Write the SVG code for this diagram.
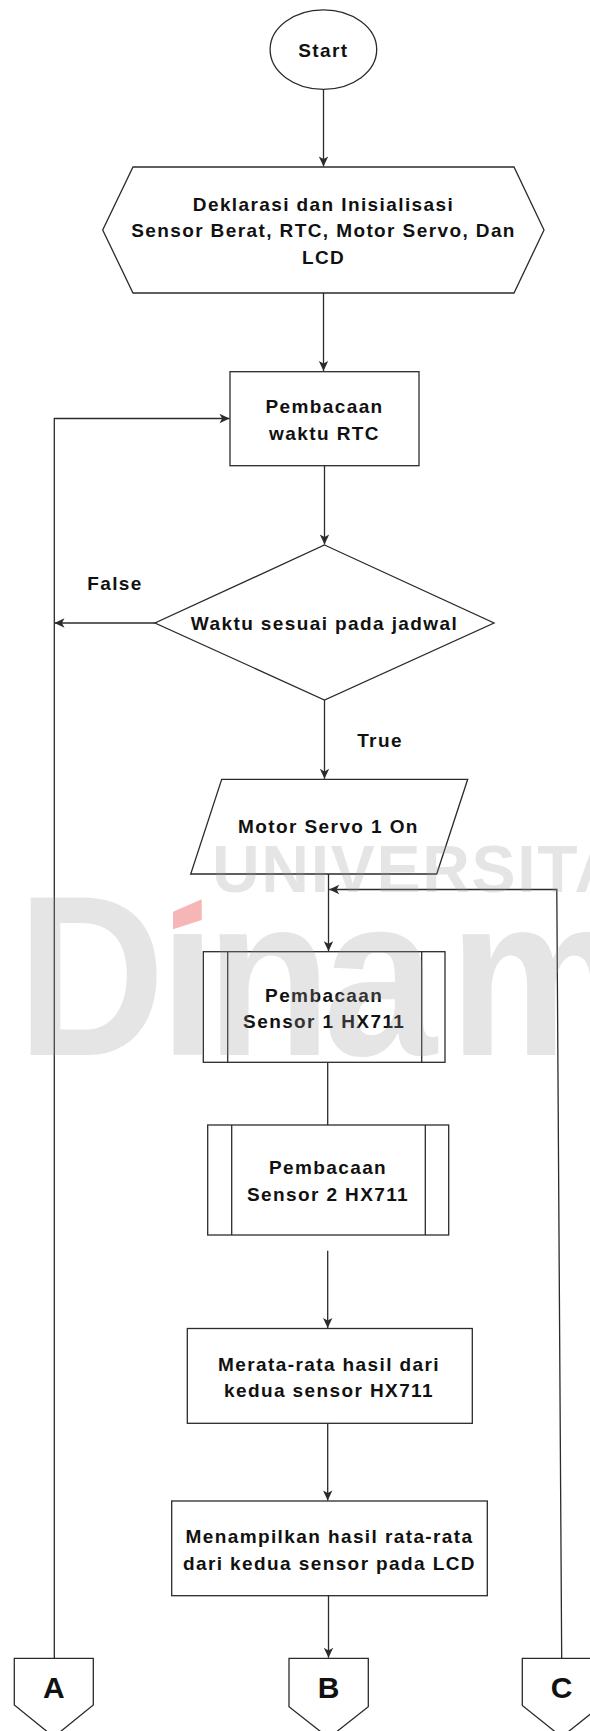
<svg xmlns="http://www.w3.org/2000/svg" width="590" height="1731" viewBox="0 0 590 1731">
  <style>
    .shape { fill: #ffffff; stroke: #2b2b2b; stroke-width: 1.3; }
    .edge { fill: none; stroke: #2b2b2b; stroke-width: 1.3; }
    .t { font-family: "Liberation Sans", Arial, sans-serif; font-weight: bold; font-size: 19px; letter-spacing: 1.4px; fill: #111111; text-anchor: middle; }
    .big { font-size: 30px; letter-spacing: 0px; }
    .wm { font-family: "Liberation Sans", Arial, sans-serif; font-weight: bold; fill: #999999; fill-opacity: 0.25; }
  </style>
  <defs>
    <marker id="arr" markerUnits="userSpaceOnUse" markerWidth="12" markerHeight="12" viewBox="0 0 12 12" refX="11" refY="6" orient="auto">
      <path d="M1,1.3 L11,6 L1,10.7 L3.6,6 Z" fill="#2b2b2b"/>
    </marker>
    <clipPath id="nodot" clipPathUnits="userSpaceOnUse">
      <path clip-rule="evenodd" d="M-10,-10 H600 V1741 H-10 Z M166,880 H212 V924 H166 Z"/>
    </clipPath>
  </defs>
  <rect x="0" y="0" width="590" height="1731" fill="#ffffff"/>

  <g id="connectors">
    <path class="edge" d="M323.5,89.3 V166.5" marker-end="url(#arr)"/>
    <path class="edge" d="M323.5,293 V371" marker-end="url(#arr)"/>
    <path class="edge" d="M324.5,465.7 V544.5" marker-end="url(#arr)"/>
    <path class="edge" d="M155,623 H54.5" marker-end="url(#arr)"/>
    <path class="edge" d="M54.3,1658.3 V418.5 H229.5" marker-end="url(#arr)"/>
    <path class="edge" d="M324.5,700 V778.8" marker-end="url(#arr)"/>
    <path class="edge" d="M328.5,874 V951.2" marker-end="url(#arr)"/>
    <path class="edge" d="M561.7,1658.3 L556.8,889.5 H329.2" marker-end="url(#arr)"/>
    <path class="edge" d="M327.7,1062.3 V1125"/>
    <path class="edge" d="M327.7,1250.7 V1328" marker-end="url(#arr)"/>
    <path class="edge" d="M327.7,1423.3 V1500.5" marker-end="url(#arr)"/>
    <path class="edge" d="M328.5,1595.7 V1657.8" marker-end="url(#arr)"/>
    <text class="t" x="115" y="590">False</text>
    <text class="t" x="380" y="746.8">True</text>
  </g>

  <g id="start">
    <ellipse class="shape" cx="323.4" cy="49.6" rx="53.3" ry="39.7"/>
    <text class="t" x="323.4" y="56.6">Start</text>
  </g>

  <g id="init">
    <polygon class="shape" points="102.7,230 133,167 514,167 544,230 514,293 133,293"/>
    <text class="t" x="323.5" y="210.7">Deklarasi dan Inisialisasi</text>
    <text class="t" x="323.5" y="237.3">Sensor Berat, RTC, Motor Servo, Dan</text>
    <text class="t" x="323.5" y="264">LCD</text>
  </g>

  <g id="read-rtc">
    <rect class="shape" x="230" y="371.7" width="189" height="94"/>
    <text class="t" x="324.5" y="413.3">Pembacaan</text>
    <text class="t" x="324.5" y="440">waktu RTC</text>
  </g>

  <g id="decision">
    <polygon class="shape" points="324.5,545 494,623 324.5,700 155,623"/>
    <text class="t" x="324.5" y="630">Waktu sesuai pada jadwal</text>
  </g>

  <g id="servo-on">
    <polygon class="shape" points="221.7,779.3 467.7,779.3 436.7,874 190.7,874"/>
    <text class="t" x="328.5" y="833.3">Motor Servo 1 On</text>
  </g>

  <g id="sensor1">
    <rect class="shape" x="203.3" y="951.7" width="241.7" height="110.6"/>
    <line class="edge" x1="227.7" y1="951.7" x2="227.7" y2="1062.3"/>
    <line class="edge" x1="421.7" y1="951.7" x2="421.7" y2="1062.3"/>
    <text class="t" x="324.2" y="1001.7">Pembacaan</text>
    <text class="t" x="324.2" y="1028.3">Sensor 1 HX711</text>
  </g>

  <g id="sensor2">
    <rect class="shape" x="207.7" y="1125" width="241" height="110"/>
    <line class="edge" x1="231.7" y1="1125" x2="231.7" y2="1235"/>
    <line class="edge" x1="425.3" y1="1125" x2="425.3" y2="1235"/>
    <text class="t" x="328" y="1174.3">Pembacaan</text>
    <text class="t" x="328" y="1200.7">Sensor 2 HX711</text>
  </g>

  <g id="average">
    <rect class="shape" x="187.3" y="1328.5" width="285" height="94.8"/>
    <text class="t" x="329" y="1370.7">Merata-rata hasil dari</text>
    <text class="t" x="329" y="1397.3">kedua sensor HX711</text>
  </g>

  <g id="display">
    <rect class="shape" x="171.7" y="1501" width="315.6" height="94.7"/>
    <text class="t" x="329.5" y="1543.3">Menampilkan hasil rata-rata</text>
    <text class="t" x="329.5" y="1569.6">dari kedua sensor pada LCD</text>
  </g>

  <g id="conn-a">
    <polygon class="shape" points="14.3,1658.3 93.3,1658.3 93.3,1705 53.8,1737 14.3,1705"/>
    <text class="t big" x="53.8" y="1698.3">A</text>
  </g>

  <g id="conn-b">
    <polygon class="shape" points="289,1658.3 368.3,1658.3 368.3,1706.7 328.7,1738 289,1706.7"/>
    <text class="t big" x="328.7" y="1698.3">B</text>
  </g>

  <g id="conn-c">
    <polygon class="shape" points="522.3,1658.3 601,1658.3 601,1705.5 561.7,1737 522.3,1705.5"/>
    <text class="t big" x="561.7" y="1698.3">C</text>
  </g>

  <g id="watermark">
    <text class="wm" x="212" y="892" font-size="66" letter-spacing="1.7">UNIVERSITAS</text>
    <g clip-path="url(#nodot)">
      <text class="wm" transform="translate(0,1055) scale(0.9,1)" x="18.9 177 229 358.7 499" y="0" font-size="228">Dinamika</text>
    </g>
    <polygon points="173,911.7 201.7,899.3 201.7,920 173,929.3" fill="#f7b6b6"/>
  </g>
</svg>
